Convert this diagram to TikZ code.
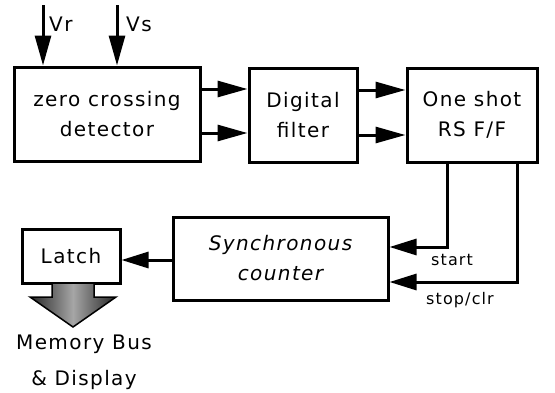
\documentclass[tikz,border=0pt]{standalone}
\usepackage{fontspec}
\newfontfamily\dvsfont[LetterSpace=7]{DejaVu Sans}
\usetikzlibrary{arrows.meta}
\begin{document}
\begin{tikzpicture}[x=1pt,y=-1pt,
  blk/.style={draw,line width=3pt,inner sep=0pt,align=center,font=\dvsfont\fontsize{20}{30}\selectfont},
  arr/.style={line width=3pt,-{Triangle[length=30pt,width=16pt]}},
  arrs/.style={line width=3pt,-{Triangle[length=27pt,width=16pt]}},
  lbl/.style={inner sep=0pt,font=\dvsfont\fontsize{20}{36}\selectfont},
  slbl/.style={inner sep=0pt,font=\dvsfont\fontsize{16}{20}\selectfont}]
\useasboundingbox (0,0) rectangle (555,392);
\node[blk,minimum width=186pt,minimum height=94pt] (zcd) at (107,114) {zero crossing\\detector};
\node[blk,minimum width=108pt,minimum height=94pt] (dig) at (303,115) {Digital\\filter};
\node[blk,minimum width=130pt,minimum height=94pt] (one) at (472,115) {One shot\\RS F/F};
\node[blk,minimum width=215pt,minimum height=83pt] (cnt) at (280.5,258.5) {\itshape Synchronous\\\itshape counter};
\node[blk,minimum width=98pt,minimum height=54pt] (latch) at (71,256) {Latch};
\coordinate (vr) at (43,5);
\coordinate (vs) at (117,5);
\coordinate (ya) at (0,89);
\coordinate (yb) at (0,133);
\coordinate (yc) at (0,90);
\coordinate (yd) at (0,135);
\coordinate (xs) at (447,0);
\coordinate (xp) at (517,0);
\coordinate (ys) at (0,247);
\coordinate (yp) at (0,282);
\coordinate (yl) at (0,260);
\draw[arr] (vr) -- (vr |- zcd.north);
\draw[arr] (vs) -- (vs |- zcd.north);
\node[lbl,anchor=west] (vrl) at (49,24) {Vr};
\node[lbl,anchor=west] (vsl) at (126,24) {Vs};
\draw[arr] (zcd.east |- ya) -- (dig.west |- ya);
\draw[arr] (zcd.east |- yb) -- (dig.west |- yb);
\draw[arr] (dig.east |- yc) -- (one.west |- yc);
\draw[arr] (dig.east |- yd) -- (one.west |- yd);
\draw[arrs] (xs |- one.south) |- (cnt.east |- ys);
\draw[arrs] (xp |- one.south) |- (cnt.east |- yp);
\node[slbl,anchor=west] (st) at (431,260) {start};
\node[slbl,anchor=west] (sp) at (426,300) {stop/clr};
\draw[arrs] (cnt.west |- yl) -- (latch.east |- yl);
\path[left color=black!85,right color=black!85,middle color=black!35,draw=black,line width=1.5pt]
  (52,283) -- (52,297) -- (30,297) -- (73,327) -- (116,297) -- (94,297) -- (94,283) -- cycle;
\node[lbl,align=center] (mem) at (84,362) {Memory Bus\\\& Display};
\end{tikzpicture}
\end{document}
